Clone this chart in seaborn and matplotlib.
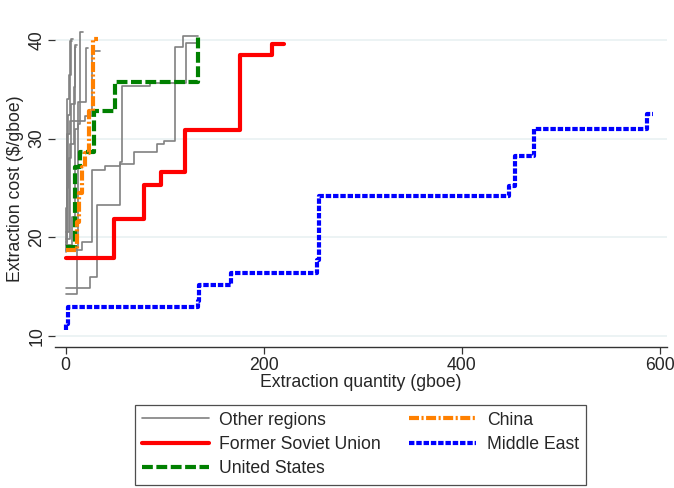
import matplotlib
matplotlib.use("Agg")
import matplotlib.pyplot as plt
import seaborn as sns
from matplotlib.lines import Line2D

# supply curves: x = start of each step (gboe), y = cost level ($/gboe); last point closes the step
other_x = [
    [0, 25, 32, 55, 57, 85, 122, 133],
    [0, 17, 27, 40, 55, 69, 92, 99, 111, 119, 134],
    [0, 12, 13, 15, 18],
    [0, 2, 3, 5, 7],
    [0, 4, 6, 10, 12],
    [0, 2, 5, 20, 27, 35],
    [0, 1, 2, 4, 6, 8],
    [0, 5, 9, 10, 11],
    [0, 7, 10, 13, 21, 23],
]
other_y = [
    [14.8, 15.95, 23.3, 27.6, 35.3, 35.6, 39.7, 39.7],
    [18.7, 19.5, 26.8, 27.2, 27.4, 28.6, 29.5, 29.8, 39.25, 40.4, 40.4],
    [14.2, 19.0, 31.5, 40.8, 40.8],
    [19.2, 25.0, 32.4, 39.9, 39.9],
    [20.5, 28.0, 33.5, 39.5, 39.5],
    [19.5, 30.5, 31.8, 32.3, 38.9, 38.9],
    [18.5, 23.0, 34.0, 36.5, 40.1, 40.1],
    [19.8, 29.5, 35.2, 39.3, 39.3],
    [19.2, 22.0, 31.0, 33.7, 39.2, 39.2],
]
fsu_x = [0, 49, 79, 96.5, 121, 176, 208, 221]
fsu_y = [17.9, 21.8, 25.3, 26.6, 30.9, 38.5, 39.6, 39.6]
us_x = [0, 10, 15, 28.5, 50, 134, 134.5]
us_y = [19.0, 27.1, 28.6, 32.8, 35.7, 40.4, 40.4]
china_x = [0, 12, 14, 17, 20, 23.5, 28, 33]
china_y = [18.7, 21.5, 24.5, 27.1, 28.5, 32.8, 40.1, 40.1]
me_x = [0, 1, 3, 134, 135, 167, 254, 256, 448, 454, 473, 587, 593]
me_y = [10.6, 11.2, 12.9, 13.5, 15.1, 16.4, 17.7, 24.2, 25.2, 28.2, 31.0, 32.5, 32.5]

sns.set_theme(style="white")
plt.rcParams['font.family'] = ['Liberation Sans', 'DejaVu Sans']

FS = 12.7
LW = 3.0
gray = "#808080"
us_ls = (0, (2.6, 0.85))
china_ls = (0, (2.4, 0.6, 0.5, 0.6))
me_ls = (0, (1.3, 0.45))

fig = plt.figure(figsize=(6.74, 4.88), dpi=100)
ax = fig.add_axes([0.0816, 0.288, 0.908, 0.65])

for v in [10, 20, 30, 40]:
    ax.axhline(v, color="#eaf2f3", lw=1.3, zorder=0)

for xs, ys in zip(other_x, other_y):
    sns.lineplot(x=xs, y=ys, ax=ax, color=gray, lw=1.2, drawstyle="steps-post",
                 sort=False, estimator=None)
sns.lineplot(x=fsu_x, y=fsu_y, ax=ax, color="#ff0000", lw=LW, drawstyle="steps-post",
             sort=False, estimator=None)
sns.lineplot(x=us_x, y=us_y, ax=ax, color="#008000", lw=LW, drawstyle="steps-post",
             sort=False, estimator=None, linestyle=us_ls)
sns.lineplot(x=china_x, y=china_y, ax=ax, color="#ff8000", lw=LW, drawstyle="steps-post",
             sort=False, estimator=None, linestyle=china_ls)
sns.lineplot(x=me_x, y=me_y, ax=ax, color="#0000ff", lw=LW, drawstyle="steps-post",
             sort=False, estimator=None, linestyle=me_ls)

ax.set_xlim(-10.6, 607)
ax.set_ylim(8.8, 41)
ax.set_xticks([0, 200, 400, 600])
ax.set_yticks([10, 20, 30, 40])
for s in ["top", "right", "left"]:
    ax.spines[s].set_visible(False)
ax.spines["bottom"].set_color("#333333")
ax.spines["bottom"].set_linewidth(1.0)
ax.tick_params(axis="both", which="both", direction="out", length=5, width=0.9,
               color="#333333", labelsize=FS, pad=2, bottom=True, left=True)
for lab in ax.get_yticklabels():
    lab.set_rotation(90)
    lab.set_va("center")
ax.set_xlabel("Extraction quantity (gboe)", fontsize=FS, labelpad=0)
ax.set_ylabel("Extraction cost (\\$/gboe)", fontsize=FS, labelpad=3)

handles = [
    Line2D([], [], color=gray, lw=1.2),
    Line2D([], [], color="#ff0000", lw=LW),
    Line2D([], [], color="#008000", lw=LW, linestyle=us_ls),
    Line2D([], [], color="#ff8000", lw=LW, linestyle=china_ls),
    Line2D([], [], color="#0000ff", lw=LW, linestyle=me_ls),
]
labels = ["Other regions", "Former Soviet Union", "United States", "China", "Middle East"]
leg = fig.legend(handles, labels, ncol=2, loc="center", bbox_to_anchor=(0.5347, 0.089),
                 fontsize=FS, frameon=True, fancybox=False, edgecolor="#222222",
                 handlelength=3.8, handletextpad=0.6, columnspacing=1.6,
                 labelspacing=0.42, borderpad=0.4)
leg.get_frame().set_linewidth(0.9)

plt.savefig("out.png", dpi=100)
